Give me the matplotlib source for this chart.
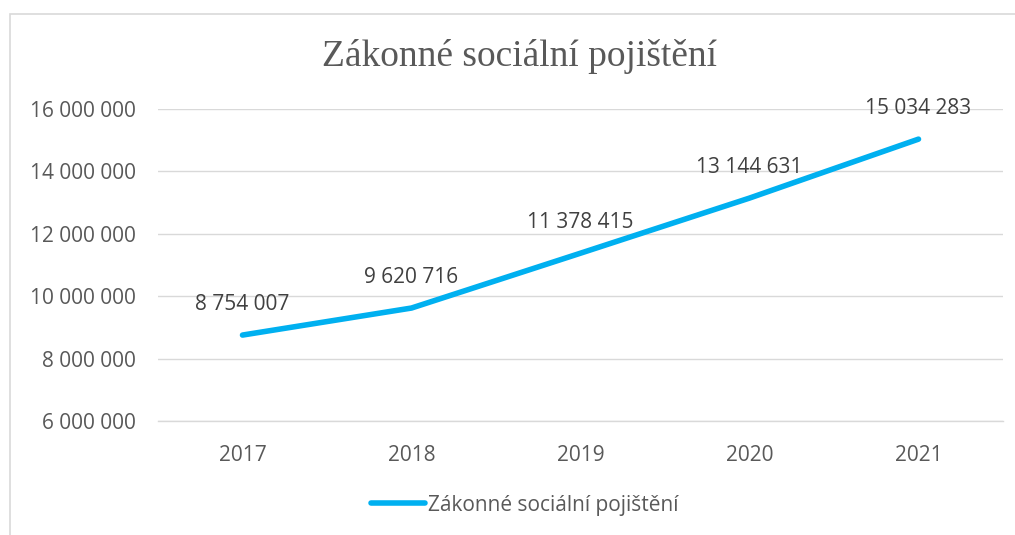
import matplotlib
matplotlib.use("Agg")
import matplotlib.pyplot as plt
from matplotlib.patches import Rectangle

years = ["2017", "2018", "2019", "2020", "2021"]
values = [8754007, 9620716, 11378415, 13144631, 15034283]
yticks = [6000000, 8000000, 10000000, 12000000, 14000000, 16000000]
title = "Zákonné sociální pojištění"
series_name = "Zákonné sociální pojištění"

def fmt(v):
    return f"{v:,}".replace(",", " ")

W, H = 1015, 535
fig = plt.figure(figsize=(W / 100, H / 100), dpi=100)
fig.patch.set_facecolor("white")

# outer chart frame
fig.patches.append(Rectangle((10 / W, -0.2), 1.2, 1.2 - 14 / H, transform=fig.transFigure,
                             fill=False, edgecolor="#D9D9D9", linewidth=1.2, zorder=0))

ax = fig.add_axes([158 / W, 1 - 421 / H, (1003 - 158) / W, (421 - 109) / H])
x = list(range(len(years)))
line, = ax.plot(x, values, color="#00B0F0", linewidth=4.0, solid_capstyle="round",
                label=series_name, zorder=3)

ax.set_xlim(-0.5, len(years) - 0.5)
ax.set_ylim(6000000, 16000000)
ax.set_yticks(yticks)
ax.set_yticklabels([fmt(v) for v in yticks])
ax.set_xticks(x)
ax.set_xticklabels(years)

tc = "#595959"
ax.tick_params(axis="both", length=0, labelsize=15, labelcolor=tc)
ax.tick_params(axis="y", pad=16)
ax.tick_params(axis="x", pad=17)
for lab in ax.get_xticklabels() + ax.get_yticklabels():
    lab.set_fontfamily("Open Sans")

ax.grid(axis="y", color="#D9D9D9", linewidth=1.0, zorder=0)
for s in ["top", "right", "left"]:
    ax.spines[s].set_visible(False)
ax.spines["bottom"].set_color("#D9D9D9")
ax.spines["bottom"].set_linewidth(1.0)

for xi, v in zip(x, values):
    ax.annotate(fmt(v), (xi, v), xytext=(0, 31), textcoords="offset pixels",
                ha="center", va="center", fontsize=15, color="#404040",
                fontfamily="Open Sans", zorder=4)

fig.text(520 / W, 1 - 57 / H, title, ha="center", va="center",
         fontsize=27, color="#595959", fontfamily="Liberation Serif")

leg = fig.legend(handles=[line], loc="center", bbox_to_anchor=(525 / W, 1 - 505 / H),
                 frameon=False, prop={"family": "Open Sans", "size": 15}, handlelength=2.6,
                 handletextpad=0.15)
for t in leg.get_texts():
    t.set_color(tc)

fig.savefig("out.png", dpi=100)
